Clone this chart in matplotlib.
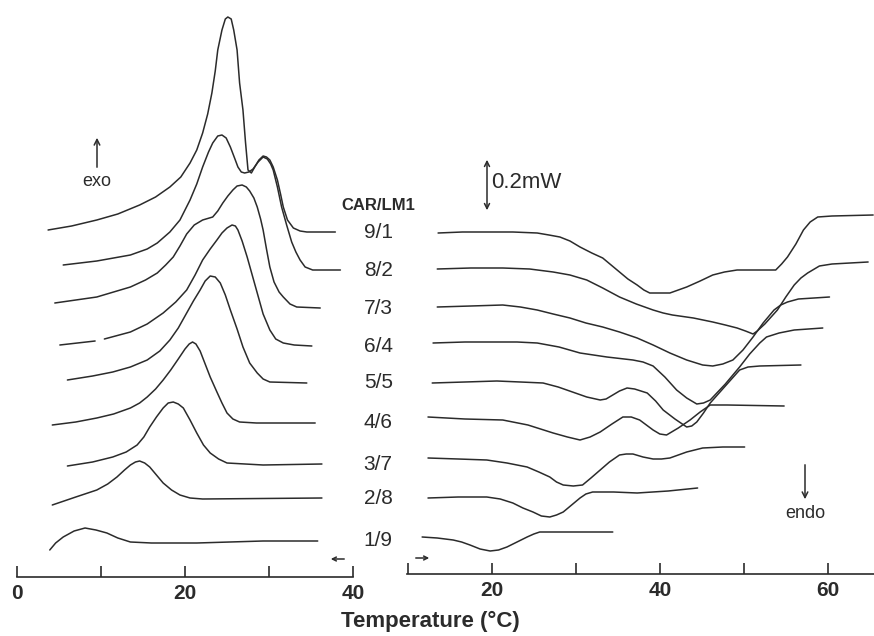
import matplotlib.pyplot as plt
from matplotlib.patches import FancyArrowPatch
import numpy as np

plt.rcParams['font.family'] = ['Liberation Sans', 'DejaVu Sans']

# CAR/LM1 mixing ratios, top to bottom
ratios = ['9/1', '8/2', '7/3', '6/4', '5/5', '4/6', '3/7', '2/8', '1/9']

# cooling scans (left, exotherms up): (temperature degC, heat flow a.u.)
cool_91 = [(3.7, 347), (6.5, 351), (9.5, 357), (12.0, 363), (14.6, 372), (16.5, 380),
           (18.2, 390), (19.5, 400), (20.6, 414), (21.4, 427), (22.1, 444), (22.7, 463),
           (23.2, 484), (23.6, 506), (23.9, 527), (24.4, 547), (24.8, 558), (25.1, 560),
           (25.5, 558), (25.8, 547), (26.2, 527), (26.5, 494), (26.9, 467), (27.2, 435),
           (27.5, 407), (27.9, 404), (28.3, 410), (28.8, 417), (29.3, 421), (29.7, 420),
           (30.1, 417), (30.5, 410), (31.0, 397), (31.4, 382), (31.7, 370), (32.2, 357),
           (32.9, 349), (33.7, 346), (34.5, 345), (37.9, 345)]
cool_82 = [(5.5, 312), (9.5, 316), (13.5, 322), (15.5, 328), (16.7, 334), (18.2, 345),
           (19.4, 357), (20.6, 377), (21.4, 393), (22.1, 410), (22.8, 425), (23.3, 434),
           (23.9, 441), (24.4, 442), (24.9, 439), (25.4, 430), (25.9, 419), (26.3, 410),
           (26.7, 405), (27.1, 404), (27.6, 405), (28.1, 408), (28.7, 415), (29.3, 420),
           (29.8, 418), (30.2, 413), (30.5, 407), (31.0, 390), (31.5, 370), (32.1, 352),
           (32.7, 335), (33.2, 325), (33.7, 317), (34.3, 310), (35.2, 307), (38.5, 307)]
cool_73 = [(4.5, 274), (9.5, 280), (13.5, 290), (15.3, 297), (16.7, 304), (17.7, 312),
           (18.6, 320), (19.4, 331), (20.2, 343), (21.1, 352), (22.1, 357), (23.3, 360),
           (23.9, 366), (24.5, 374), (25.1, 381), (25.7, 387), (26.2, 391), (26.8, 392),
           (27.3, 390), (27.7, 386), (28.2, 379), (28.6, 370), (29.0, 358), (29.3, 347),
           (29.7, 328), (30.1, 310), (30.6, 295), (31.2, 285), (31.7, 280), (32.5, 273),
           (33.3, 270), (36.1, 269)]
cool_64 = [(5.1, 232), (9.3, 236), (np.nan, np.nan), (10.4, 238), (13.5, 245), (15.5, 253),
           (17.4, 264), (18.9, 275), (20.2, 287), (21.2, 302), (22.1, 317), (23.0, 328),
           (23.8, 337), (24.4, 344), (25.0, 349), (25.6, 352), (26.0, 351), (26.3, 347),
           (26.8, 336), (27.4, 320), (28.0, 302), (28.6, 284), (29.3, 263), (30.1, 247),
           (30.8, 238), (31.7, 234), (33.0, 232), (35.1, 231)]
cool_55 = [(6.0, 197), (9.0, 201), (11.4, 205), (13.5, 210), (15.5, 217), (17.0, 226),
           (18.2, 237), (19.2, 249), (20.2, 264), (21.0, 276), (21.8, 287), (22.4, 296),
           (23.0, 301), (23.6, 300), (24.2, 294), (24.8, 282), (25.4, 267), (26.2, 248),
           (26.9, 230), (27.7, 214), (28.6, 204), (29.3, 198), (30.1, 195), (34.5, 194)]
cool_46 = [(4.2, 152), (7.0, 155), (9.5, 159), (11.5, 163), (13.5, 169), (14.6, 174),
           (15.5, 180), (16.5, 188), (17.4, 197), (18.3, 207), (19.2, 218), (20.0, 228),
           (20.5, 233), (20.9, 235), (21.3, 233), (21.8, 226), (22.4, 213), (23.0, 200),
           (23.8, 185), (24.4, 174), (25.0, 164), (25.7, 158), (26.5, 155), (28.5, 154),
           (35.5, 154)]
cool_37 = [(6.0, 111), (9.0, 115), (11.4, 120), (13.0, 125), (14.3, 132), (15.1, 140),
           (15.8, 150), (16.6, 160), (17.4, 169), (18.0, 174), (18.6, 175), (19.2, 173),
           (19.8, 169), (20.6, 157), (21.4, 144), (22.2, 132), (23.0, 124), (24.0, 118),
           (25.0, 114), (29.3, 112), (36.3, 113)]
cool_28 = [(4.2, 72), (7.0, 80), (9.5, 87), (10.8, 93), (11.9, 100), (12.8, 107),
           (13.5, 112), (14.1, 115), (14.6, 116), (15.2, 114), (15.8, 110), (16.6, 102),
           (17.4, 94), (18.4, 87), (19.4, 82), (20.6, 79), (22.1, 78), (36.3, 79)]
cool_19 = [(3.9, 27), (4.6, 34), (5.5, 40), (6.8, 46), (8.1, 49), (9.4, 47), (10.7, 44),
           (12.0, 39), (13.5, 35), (16.0, 34), (21.4, 34), (29.3, 36), (35.8, 36)]

# heating scans (right, endotherms down)
heat_91 = [(13.6, 341), (16.5, 342), (19.4, 342), (22.5, 342), (25.4, 341), (26.8, 339),
           (28.1, 337), (29.3, 333), (30.5, 327), (31.9, 321), (33.2, 316), (34.2, 309),
           (35.2, 302), (36.2, 295), (37.3, 289), (38.1, 284), (38.8, 281), (40.0, 281),
           (41.2, 281), (42.2, 284), (43.2, 287), (44.8, 293), (46.3, 299), (47.7, 302),
           (49.2, 304), (53.8, 304), (54.5, 310), (55.2, 317), (56.2, 330), (57.1, 344),
           (57.9, 352), (58.8, 357), (60.5, 358), (65.4, 359)]
heat_82 = [(13.5, 305), (17.5, 306), (21.3, 306), (24.5, 305), (27.3, 302), (29.3, 299),
           (31.3, 294), (33.2, 286), (35.2, 277), (37.2, 270), (39.2, 264), (40.4, 261),
           (41.5, 259), (44.0, 256), (46.3, 252), (47.8, 249), (49.2, 246), (50.2, 243),
           (51.1, 240), (51.6, 243), (52.5, 250), (54.0, 264), (55.0, 277), (56.0, 289),
           (56.8, 296), (57.6, 301), (59.0, 308), (60.5, 310), (64.8, 312)]
heat_73 = [(13.5, 267), (17.5, 268), (21.3, 269), (23.4, 267), (25.4, 264), (27.3, 260),
           (29.3, 256), (31.2, 251), (33.2, 247), (35.2, 242), (37.3, 236), (39.2, 229),
           (41.2, 221), (43.2, 214), (45.1, 209), (46.3, 208), (47.5, 210), (48.7, 214),
           (49.9, 224), (51.1, 237), (52.3, 251), (53.6, 264), (54.4, 269), (55.2, 272),
           (56.5, 275), (60.2, 277)]
heat_64 = [(13.0, 231), (16.8, 232), (20.6, 232), (23.0, 232), (25.4, 231), (28.0, 227),
           (30.5, 221), (33.7, 217), (36.8, 214), (38.0, 212), (39.2, 208), (40.6, 197),
           (42.0, 184), (43.2, 176), (44.4, 170), (45.2, 171), (46.0, 174), (47.8, 190),
           (49.5, 207), (50.7, 220), (51.9, 231), (52.7, 237), (54.2, 241), (56.0, 244),
           (59.4, 246)]
heat_55 = [(12.9, 191), (16.8, 192), (20.6, 193), (23.4, 192), (26.1, 191), (27.9, 187),
           (29.6, 182), (31.3, 177), (32.9, 174), (33.6, 175), (34.4, 179), (35.2, 183),
           (36.1, 186), (37.0, 185), (38.5, 181), (39.5, 173), (40.4, 164), (41.8, 155),
           (43.2, 147), (43.8, 148), (44.4, 152), (45.2, 161), (46.0, 171), (47.8, 188),
           (49.5, 204), (50.5, 207), (51.9, 208), (56.8, 209)]
heat_46 = [(12.4, 157), (16.8, 155), (21.3, 154), (24.3, 149), (27.3, 141), (29.0, 137),
           (30.5, 134), (31.7, 137), (32.9, 142), (34.3, 150), (35.6, 157), (36.6, 157),
           (37.6, 154), (38.4, 149), (39.2, 144), (40.0, 140), (40.8, 139), (42.2, 146),
           (43.6, 154), (44.8, 162), (46.0, 169), (48.0, 169), (54.8, 168)]
heat_37 = [(12.4, 116), (16.0, 115), (19.4, 114), (21.8, 111), (24.2, 107), (25.6, 102),
           (26.9, 97), (27.7, 92), (28.5, 89), (29.7, 88), (30.8, 89), (31.8, 96),
           (32.9, 104), (34.0, 112), (35.2, 119), (36.0, 120), (36.8, 120), (38.0, 117),
           (39.2, 115), (40.2, 115), (41.2, 116), (43.2, 122), (45.1, 126), (47.5, 127),
           (50.1, 127)]
heat_28 = [(12.4, 76), (16.0, 77), (19.4, 77), (21.0, 75), (22.5, 71), (23.7, 66),
           (24.9, 62), (25.9, 58), (26.9, 57), (27.7, 59), (28.5, 62), (29.5, 69),
           (30.5, 76), (31.2, 80), (32.0, 82), (34.5, 82), (37.3, 81), (41.0, 83),
           (44.5, 86)]
heat_19 = [(11.7, 37), (13.5, 36), (15.4, 34), (16.4, 32), (17.4, 29), (18.6, 25),
           (19.8, 23), (20.8, 24), (21.8, 27), (23.0, 32), (24.2, 37), (25.0, 40),
           (25.7, 42), (28.0, 42), (34.4, 42)]

cool_curves = [cool_91, cool_82, cool_73, cool_64, cool_55, cool_46, cool_37, cool_28, cool_19]
heat_curves = [heat_91, heat_82, heat_73, heat_64, heat_55, heat_46, heat_37, heat_28, heat_19]

W, H = 874, 636
ink = '#2b2b2b'

fig = plt.figure(figsize=(W / 100, H / 100), dpi=100)
ax_l = fig.add_axes([17 / W, 59 / H, 336 / W, 577 / H])
ax_r = fig.add_axes([407 / W, 62 / H, 467 / W, 574 / H])

line_kw = dict(color=ink, lw=1.1, clip_on=False,
               solid_joinstyle='round', solid_capstyle='round')
for curve in cool_curves:
    t, y = zip(*curve)
    ax_l.plot(t, y, **line_kw)
for curve in heat_curves:
    t, y = zip(*curve)
    ax_r.plot(t, y, **line_kw)

ax_l.set_xlim(0, 40)
ax_l.set_ylim(0, 577)
ax_l.set_xticks([0, 10, 20, 30, 40])
ax_l.set_xticklabels(['0', '', '20', '', '40'])

ax_r.set_xlim(9.9, 65.5)
ax_r.set_ylim(0, 574)
ax_r.set_xticks([10, 20, 30, 40, 50, 60])
ax_r.set_xticklabels(['', '20', '', '40', '', '60'])

for ax in (ax_l, ax_r):
    ax.patch.set_visible(False)
    for side in ('top', 'left', 'right'):
        ax.spines[side].set_visible(False)
    ax.spines['bottom'].set_color(ink)
    ax.spines['bottom'].set_linewidth(1.2)
    ax.set_yticks([])
    ax.tick_params(axis='x', direction='in', length=8, width=1.2, pad=5,
                   colors=ink, labelsize=15)
    for lab in ax.get_xticklabels():
        lab.set_fontweight('bold')

# ratio labels sit at the end level of each cooling curve
for name, curve in zip(ratios, cool_curves):
    ax_l.text(43.0, curve[-1][1], name, ha='center', va='center',
              fontsize=15, color=ink, clip_on=False)
fig.text(378 / W, 1 - 205 / H, 'CAR/LM1', ha='center', va='center',
         fontsize=12, fontweight='bold', color=ink)


def fig_arrow(x0, y0, x1, y1, style='->', scale=10):
    fig.add_artist(FancyArrowPatch((x0 / W, 1 - y0 / H), (x1 / W, 1 - y1 / H),
                                   transform=fig.transFigure, arrowstyle=style,
                                   mutation_scale=scale, lw=1.1, color=ink))


fig.text(97 / W, 1 - 181 / H, 'exo', ha='center', va='center', fontsize=13, color=ink)
fig_arrow(97, 170, 97, 135)
fig.text(805 / W, 1 - 513 / H, 'endo', ha='center', va='center', fontsize=13, color=ink)
fig_arrow(805, 462, 805, 502)

# 0.2 mW scale bar
fig_arrow(487, 157, 487, 213, style='<->', scale=9)
fig.text(491 / W, 1 - 183 / H, '0.2mW', ha='left', va='center', fontsize=16, color=ink)

# scan direction: cooling (left), heating (right)
fig_arrow(347, 559, 328, 559, scale=7)
fig_arrow(413, 558, 432, 558, scale=7)

fig.text(430 / W, 1 - 621 / H, 'Temperature (\u00b0C)', ha='center', va='center',
         fontsize=16, fontweight='bold', color=ink)

fig.savefig('out.png', dpi=100)
